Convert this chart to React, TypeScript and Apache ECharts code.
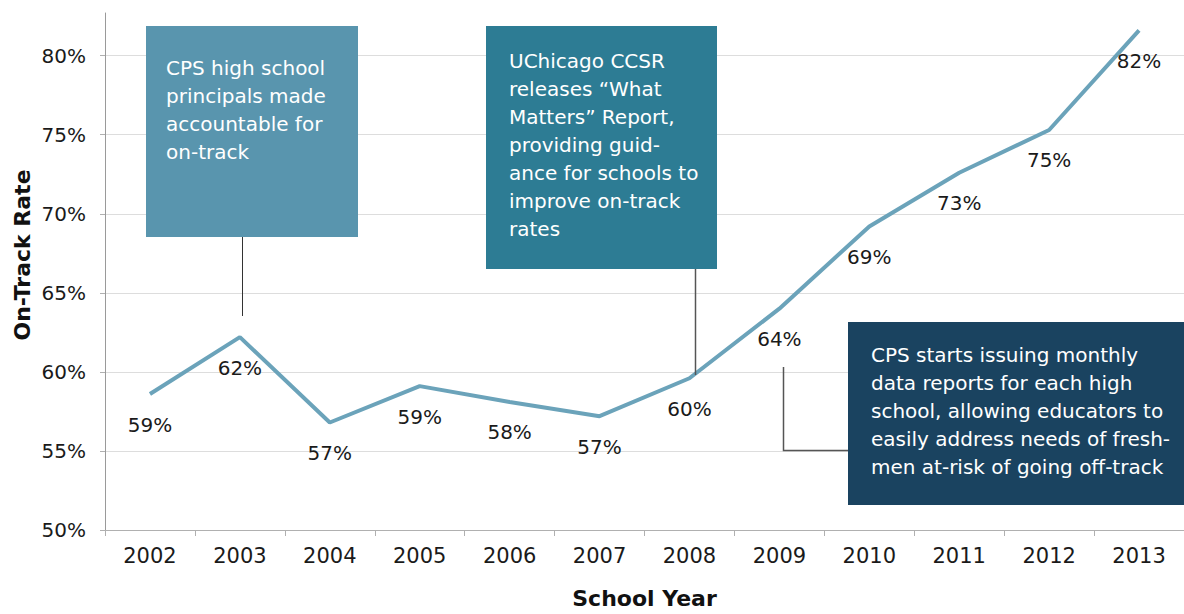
import React, { useEffect, useRef } from "react";
import * as echarts from "echarts";

const years = ["2002", "2003", "2004", "2005", "2006", "2007", "2008", "2009", "2010", "2011", "2012", "2013"];
const onTrackRate = [58.6, 62.2, 56.8, 59.1, 58.1, 57.2, 59.6, 64.0, 69.2, 72.6, 75.3, 81.6];
const yMin = 50;
const yMax = 82.7;
const yInterval = 5;

const note1 = ["CPS high school", "principals made", "accountable for", "on-track"];
const note2 = [
  "UChicago CCSR",
  "releases \u201cWhat",
  "Matters\u201d Report,",
  "providing guid-",
  "ance for schools to",
  "improve on-track",
  "rates",
];
const note3 = [
  "CPS starts issuing monthly",
  "data reports for each high",
  "school, allowing educators to",
  "easily address needs of fresh-",
  "men at-risk of going off-track",
];

const FONT = "DejaVu Sans";

export default function App() {
  const ref = useRef<HTMLDivElement>(null);
  useEffect(() => {
    if (!ref.current) return;
    const chart = echarts.init(ref.current, undefined, { renderer: "svg" });
    const noteText = (lines: string[], x: number, y: number) => ({
      type: "text",
      x,
      y,
      z: 101,
      style: {
        text: lines.join("\n"),
        fill: "#ffffff",
        fontFamily: FONT,
        fontSize: 20,
        lineHeight: 28,
        verticalAlign: "top",
        align: "left",
      },
    });
    chart.setOption({
      animation: false,
      backgroundColor: "#ffffff",
      grid: { left: 105, width: 1093, top: 13, height: 522, containLabel: false },
      xAxis: {
        type: "category",
        data: years,
        boundaryGap: true,
        name: "School Year",
        nameLocation: "middle",
        nameGap: 57,
        nameTextStyle: { fontFamily: FONT, fontSize: 22, fontWeight: "bold", color: "#111" },
        axisLine: { lineStyle: { color: "#b0b0b0", width: 1 } },
        axisTick: { show: true, length: 6, lineStyle: { color: "#b0b0b0" } },
        axisLabel: { fontFamily: FONT, fontSize: 21, color: "#1a1a1a", margin: 15 },
        splitLine: { show: false },
      },
      yAxis: {
        type: "value",
        min: yMin,
        max: yMax,
        interval: yInterval,
        axisLine: { show: true, lineStyle: { color: "#9a9a9a", width: 1 } },
        axisTick: { show: true, length: 5, lineStyle: { color: "#b0b0b0" } },
        axisLabel: {
          fontFamily: FONT,
          fontSize: 20,
          color: "#1a1a1a",
          margin: 19,
          showMaxLabel: false,
          formatter: (v: number) => (v % 5 === 0 ? v + "%" : ""),
        },
        splitLine: {
          show: true,
          lineStyle: {
            color: ["#dddddd", "#dddddd", "#dddddd", "#dddddd", "#dddddd", "#dddddd", "#dddddd", "rgba(0,0,0,0)"],
            width: 1,
          },
        },
      },
      series: [
        {
          type: "line",
          data: onTrackRate,
          symbol: "circle",
          symbolSize: 1,
          showSymbol: true,
          itemStyle: { color: "#6ba3ba", opacity: 0 },
          lineStyle: { color: "#6ba3ba", width: 4 },
          label: {
            show: true,
            position: "bottom",
            distance: 20,
            fontFamily: FONT,
            fontSize: 20,
            color: "#1a1a1a",
            opacity: 1,
            formatter: (p: any) => Math.round(p.value) + "%",
          },
        },
      ],
      graphic: [
        {
          type: "text",
          x: 22,
          y: 255,
          rotation: Math.PI / 2,
          style: {
            text: "On-Track Rate",
            fill: "#111",
            fontFamily: FONT,
            fontSize: 22,
            fontWeight: "bold",
            align: "center",
            verticalAlign: "middle",
          },
        },
        { type: "rect", shape: { x: 146, y: 26, width: 212, height: 211 }, style: { fill: "#5995ae" }, z: 100 },
        noteText(note1, 166, 54),
        { type: "line", shape: { x1: 242.5, y1: 237, x2: 242.5, y2: 316 }, style: { stroke: "#333", lineWidth: 1 }, z: 100 },
        { type: "rect", shape: { x: 486, y: 26, width: 231, height: 243 }, style: { fill: "#2d7c94" }, z: 100 },
        noteText(note2, 509, 47),
        { type: "line", shape: { x1: 695.5, y1: 269, x2: 695.5, y2: 375 }, style: { stroke: "#555", lineWidth: 1.5 }, z: 100 },
        { type: "rect", shape: { x: 848, y: 322, width: 340, height: 183 }, style: { fill: "#1a4360" }, z: 100 },
        noteText(note3, 871, 341),
        {
          type: "polyline",
          shape: { points: [[783.5, 367], [783.5, 450.5], [848, 450.5]] },
          style: { stroke: "#555", lineWidth: 1.5, fill: "none" },
          z: 100,
        },
      ],
    });
    return () => chart.dispose();
  }, []);
  return <div ref={ref} style={{ position: "fixed", left: 0, top: 0, width: 1184, height: 614 }} />;
}
